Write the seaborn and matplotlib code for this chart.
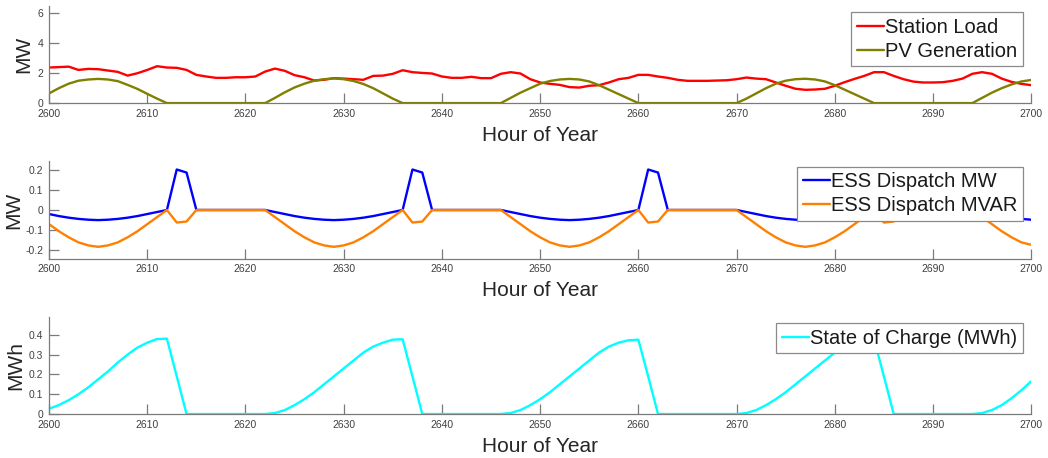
import numpy as np
import pandas as pd
import matplotlib
matplotlib.use("Agg")
import matplotlib.pyplot as plt
import seaborn as sns

hours = list(range(2600, 2701))

station_load = [2.38, 2.41, 2.44, 2.22, 2.29, 2.27, 2.18, 2.09, 1.84, 2.0,
                2.22, 2.47, 2.38, 2.36, 2.22, 1.89, 1.78, 1.69, 1.69, 1.73,
                1.73, 1.78, 2.11, 2.31, 2.16, 1.87, 1.73, 1.51, 1.56, 1.67,
                1.64, 1.6, 1.56, 1.82, 1.84, 1.96, 2.2, 2.07, 2.02, 1.98,
                1.78, 1.69, 1.69, 1.76, 1.67, 1.67, 1.96, 2.07, 1.98, 1.6,
                1.38, 1.29, 1.22, 1.07, 1.04, 1.16, 1.2, 1.38, 1.6, 1.69,
                1.89, 1.89, 1.78, 1.69, 1.56, 1.49, 1.49, 1.49, 1.51, 1.53,
                1.6, 1.71, 1.64, 1.6, 1.38, 1.16, 0.96, 0.89, 0.91, 0.96,
                1.16, 1.4, 1.62, 1.82, 2.07, 2.07, 1.82, 1.6, 1.44, 1.38,
                1.38, 1.4, 1.49, 1.64, 1.96, 2.07, 1.96, 1.64, 1.42, 1.29,
                1.2]

pv_generation = [0.65, 1.0, 1.3, 1.5, 1.58, 1.62, 1.58, 1.47, 1.22, 0.95,
                 0.62, 0.3, 0, 0, 0, 0, 0, 0, 0, 0,
                 0, 0, 0, 0.35, 0.72, 1.05, 1.3, 1.5, 1.6, 1.65,
                 1.6, 1.48, 1.28, 1.0, 0.65, 0.3, 0, 0, 0, 0,
                 0, 0, 0, 0, 0, 0, 0, 0.35, 0.7, 1.0,
                 1.3, 1.48, 1.58, 1.62, 1.58, 1.45, 1.2, 0.9, 0.6, 0.3,
                 0, 0, 0, 0, 0, 0, 0, 0, 0, 0,
                 0, 0.3, 0.65, 1.0, 1.3, 1.5, 1.6, 1.63, 1.58, 1.45,
                 1.2, 0.9, 0.6, 0.3, 0, 0, 0, 0, 0, 0,
                 0, 0, 0, 0, 0, 0.35, 0.7, 1.0, 1.25, 1.45,
                 1.55]

ess_mw = [-0.02, -0.03, -0.038, -0.044, -0.048, -0.05, -0.048, -0.044, -0.038, -0.03,
          -0.02, -0.01, 0, 0.2, 0.185, 0, 0, 0, 0, 0,
          0, 0, 0, -0.01, -0.02, -0.03, -0.038, -0.044, -0.048, -0.05,
          -0.048, -0.044, -0.038, -0.03, -0.02, -0.01, 0, 0.2, 0.185, 0,
          0, 0, 0, 0, 0, 0, 0, -0.01, -0.02, -0.03,
          -0.038, -0.044, -0.048, -0.05, -0.048, -0.044, -0.038, -0.03, -0.02, -0.01,
          0, 0.2, 0.185, 0, 0, 0, 0, 0, 0, 0,
          0, -0.01, -0.02, -0.03, -0.038, -0.044, -0.048, -0.05, -0.048, -0.044,
          -0.038, -0.03, -0.02, -0.01, 0, 0.2, 0.185, 0, 0, 0,
          0, 0, 0, 0, 0, -0.01, -0.02, -0.03, -0.038, -0.044,
          -0.048]

ess_mvar = [-0.07, -0.105, -0.135, -0.16, -0.175, -0.182, -0.175, -0.16, -0.135, -0.105,
            -0.07, -0.035, 0, -0.062, -0.057, 0, 0, 0, 0, 0,
            0, 0, 0, -0.035, -0.07, -0.105, -0.135, -0.16, -0.175, -0.182,
            -0.175, -0.16, -0.135, -0.105, -0.07, -0.035, 0, -0.062, -0.057, 0,
            0, 0, 0, 0, 0, 0, 0, -0.035, -0.07, -0.105,
            -0.135, -0.16, -0.175, -0.182, -0.175, -0.16, -0.135, -0.105, -0.07, -0.035,
            0, -0.062, -0.057, 0, 0, 0, 0, 0, 0, 0,
            0, -0.035, -0.07, -0.105, -0.135, -0.16, -0.175, -0.182, -0.175, -0.16,
            -0.135, -0.105, -0.07, -0.035, 0, -0.062, -0.057, 0, 0, 0,
            0, 0, 0, 0, 0, -0.035, -0.07, -0.105, -0.135, -0.16,
            -0.172]

state_of_charge = [0.027, 0.045, 0.07, 0.1, 0.135, 0.175, 0.215, 0.26, 0.3, 0.335,
                   0.36, 0.378, 0.38, 0.19, 0, 0, 0, 0, 0, 0,
                   0, 0, 0, 0.005, 0.02, 0.045, 0.075, 0.11, 0.15, 0.19,
                   0.23, 0.27, 0.31, 0.34, 0.36, 0.375, 0.377, 0.19, 0, 0,
                   0, 0, 0, 0, 0, 0, 0, 0.005, 0.02, 0.045,
                   0.075, 0.11, 0.15, 0.19, 0.23, 0.27, 0.31, 0.34, 0.36, 0.372,
                   0.375, 0.19, 0, 0, 0, 0, 0, 0, 0, 0,
                   0, 0.005, 0.02, 0.045, 0.075, 0.11, 0.15, 0.19, 0.23, 0.27,
                   0.31, 0.34, 0.36, 0.375, 0.378, 0.19, 0, 0, 0, 0,
                   0, 0, 0, 0, 0, 0.005, 0.02, 0.045, 0.08, 0.12,
                   0.165]

df = pd.DataFrame({"hour": hours, "load": station_load, "pv": pv_generation,
                   "mw": ess_mw, "mvar": ess_mvar, "soc": state_of_charge})

sns.set_style("white")
plt.rcParams["font.family"] = ["Liberation Sans", "DejaVu Sans"]

fig, axes = plt.subplots(3, 1, figsize=(10.48, 4.58), dpi=100)
fig.subplots_adjust(left=0.0468, right=0.984, top=0.987, bottom=0.096, hspace=0.6)

lw = 1.7
ax1, ax2, ax3 = axes
sns.lineplot(data=df, x="hour", y="load", color="#ff0000", lw=lw, label="Station Load", ax=ax1)
sns.lineplot(data=df, x="hour", y="pv", color="#808000", lw=lw, label="PV Generation", ax=ax1)
sns.lineplot(data=df, x="hour", y="mw", color="#0000ff", lw=lw, label="ESS Dispatch MW", ax=ax2)
sns.lineplot(data=df, x="hour", y="mvar", color="#ff8000", lw=lw, label="ESS Dispatch MVAR", ax=ax2)
sns.lineplot(data=df, x="hour", y="soc", color="#00ffff", lw=lw, label="State of Charge (MWh)", ax=ax3)

ax1.set_ylim(0, 6.5)
ax1.set_yticks([0, 2, 4, 6])
ax1.set_yticklabels(["0", "2", "4", "6"])
ax2.set_ylim(-0.24, 0.24)
ax2.set_yticks([-0.2, -0.1, 0, 0.1, 0.2])
ax2.set_yticklabels(["-0.2", "-0.1", "0", "0.1", "0.2"])
ax3.set_ylim(0, 0.49)
ax3.set_yticks([0, 0.1, 0.2, 0.3, 0.4])
ax3.set_yticklabels(["0", "0.1", "0.2", "0.3", "0.4"])

ylabels = ["MW", "MW", "MWh"]
ylabel_x = [-0.0163, -0.026, -0.0244]
legend_tops = [12, 166.7, 323]
for ax, yl, yx, lt in zip(axes, ylabels, ylabel_x, legend_tops):
    ax.set_xlim(2600, 2700)
    ax.set_xticks(range(2600, 2701, 10))
    for s in ["top", "right"]:
        ax.spines[s].set_visible(False)
    for s in ["left", "bottom"]:
        ax.spines[s].set_color("#7a7a7a")
        ax.spines[s].set_linewidth(0.9)
    ax.tick_params(bottom=True, left=True, direction="in", length=7, width=0.9,
                   color="#7a7a7a", labelsize=7.5, labelcolor="#404040", pad=4)
    ax.set_xlabel("Hour of Year", fontsize=15, color="#262626", labelpad=5)
    ax.set_ylabel(yl, fontsize=15, color="#262626")
    ax.yaxis.set_label_coords(yx, 0.5)
    leg = ax.legend(loc="upper right", bbox_to_anchor=(1023 / 1048, 1 - lt / 458),
                    bbox_transform=fig.transFigure, borderaxespad=0, fontsize=14.5,
                    frameon=True, fancybox=False, framealpha=1, handlelength=1.35,
                    handletextpad=0.05, labelspacing=0.25, borderpad=0.28)
    leg.get_frame().set_edgecolor("#8a8a8a")
    leg.get_frame().set_linewidth(0.9)
    for t in leg.get_texts():
        t.set_color("#1a1a1a")

fig.savefig("out.png", dpi=100)
